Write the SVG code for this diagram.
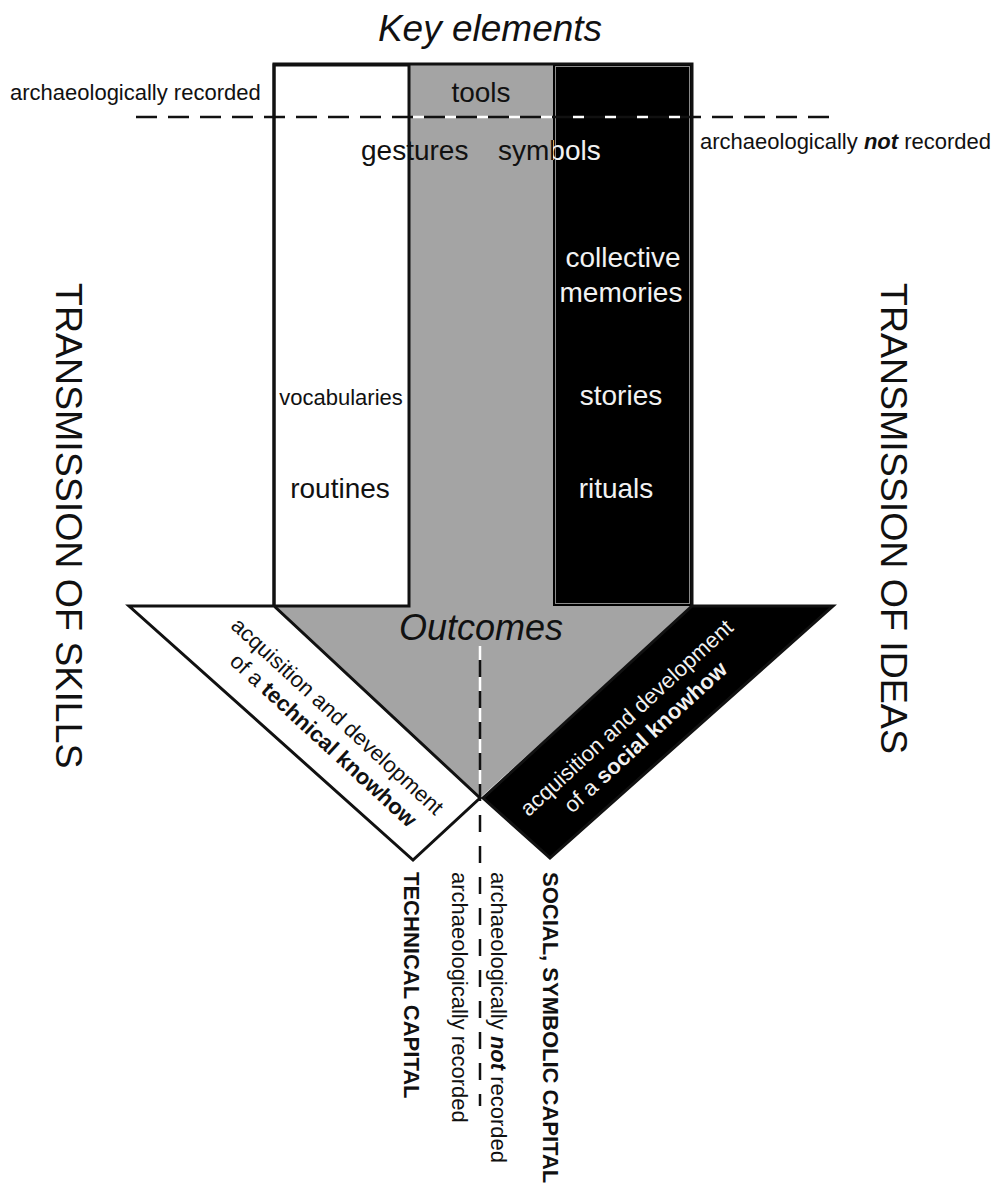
<svg xmlns="http://www.w3.org/2000/svg" width="991" height="1187" viewBox="0 0 991 1187">
<style>
text{font-family:"Liberation Sans",Arial,sans-serif;fill:#111}
.w{fill:#f2f2f2}
.b{font-weight:bold}
.it{font-style:italic}
.m{text-anchor:middle}
.s22{font-size:22px}
.s28{font-size:28px}
.edge{stroke:#111;stroke-width:3;stroke-linejoin:miter}
</style>
<defs>
<clipPath id="blackCol"><rect x="553" y="64" width="139" height="542"/></clipPath>
</defs>
<rect width="991" height="1187" fill="#fff"/>

<g id="arrow-body">
<polygon points="273,64 692,64 692,606 480,798 273,606" fill="#a4a4a4"/>
</g>
<g id="col-white">
<rect x="274" y="65" width="135" height="541" fill="#fff" class="edge"/>
</g>
<g id="col-black">
<rect x="553" y="64" width="139" height="542" fill="#000"/>
<rect x="555.5" y="66.5" width="134" height="537" fill="none" stroke="#8a8a8a" stroke-width="1"/>
</g>
<g id="outline">
<polyline points="274,606 274,64 692,64 692,606" fill="none" class="edge"/>
</g>
<g id="strip-left">
<polygon points="129,606 274,606 480,798 413,860" fill="#fff" class="edge"/>
</g>
<g id="strip-right">
<polygon points="692,606 833,606 550,858 483,798" fill="#000" class="edge"/>
</g>

<g id="connectors">
<line x1="136" y1="117" x2="830" y2="117" stroke="#111" stroke-width="2.5" stroke-dasharray="21 11"/>
<line x1="413" y1="117" x2="692" y2="117" stroke="#fff" stroke-width="2.5" stroke-dasharray="11 21"/>
<line x1="480" y1="660" x2="480" y2="1106" stroke="#111" stroke-width="2.5" stroke-dasharray="17 14"/>
<line x1="480" y1="646" x2="480" y2="796" stroke="#fff" stroke-width="2.5" stroke-dasharray="14 17"/>
</g>

<g id="title">
<text x="490" y="41" class="it m" font-size="37">Key elements</text>
</g>
<g id="rec-labels">
<text x="10" y="100" class="s22">archaeologically recorded</text>
<text x="700" y="149" class="s22">archaeologically <tspan class="b it">not</tspan> recorded</text>
</g>
<g id="key-items">
<text x="481" y="102" class="s28 m">tools</text>
<text x="361" y="160" class="s28">gestures</text>
<text x="498" y="160" class="s28">symbols</text>
<text x="498" y="160" class="s28 w" clip-path="url(#blackCol)">symbols</text>
<text x="623" y="267" class="s28 m w">collective</text>
<text x="621" y="302" class="s28 m w">memories</text>
<text x="621" y="405" class="s28 m w">stories</text>
<text x="616" y="498" class="s28 m w">rituals</text>
<text x="341" y="405" class="s22 m">vocabularies</text>
<text x="340" y="498" class="s28 m">routines</text>
</g>
<g id="outcomes">
<text x="481" y="640" class="it m" font-size="36">Outcomes</text>
</g>
<g id="left-strip-text" transform="translate(273,606) rotate(42.6)">
<text x="122" y="45" class="s22 m">acquisition and development</text>
<text x="128" y="72" class="s22 m">of a <tspan class="b">technical knowhow</tspan></text>
</g>
<g id="right-strip-text" transform="translate(483,798) rotate(-42.4)">
<text x="160" y="45" class="s22 m w">acquisition and development</text>
<text x="161" y="72" class="s22 m w">of a <tspan class="b">social knowhow</tspan></text>
</g>
<g id="side-labels">
<text transform="translate(56,283) rotate(90)" font-size="37.5">TRANSMISSION OF SKILLS</text>
<text transform="translate(881,283) rotate(90)" font-size="37.5">TRANSMISSION OF IDEAS</text>
</g>
<g id="bottom-labels">
<text transform="translate(404,872) rotate(90)" class="s22 b">TECHNICAL CAPITAL</text>
<text transform="translate(452,872) rotate(90)" class="s22">archaeologically recorded</text>
<text transform="translate(491,872) rotate(90)" class="s22">archaeologically <tspan class="b it">not</tspan> recorded</text>
<text transform="translate(543,872) rotate(90)" class="s22 b">SOCIAL, SYMBOLIC CAPITAL</text>
</g>
</svg>
